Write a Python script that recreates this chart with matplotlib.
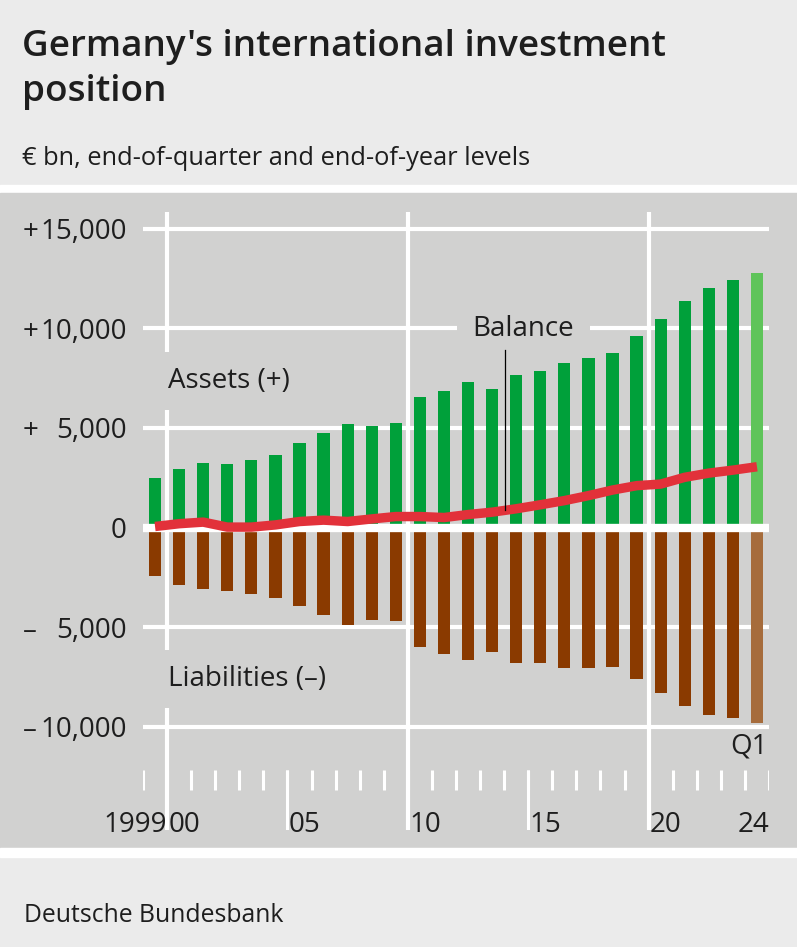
import numpy as np
import matplotlib
matplotlib.use("Agg")
from matplotlib import pyplot as plt
from matplotlib.patches import Rectangle

plt.rcParams['font.family'] = ['Open Sans', 'DejaVu Sans']

years = list(range(1999, 2025))
assets = [2500, 2920, 3240, 3190, 3370, 3640, 4240, 4740, 5210, 5110, 5250,
          6530, 6850, 7300, 6950, 7650, 7880, 8280, 8530, 8760, 9590,
          10450, 11390, 12020, 12410, 12800]
liabilities = [-2430, -2880, -3070, -3180, -3330, -3530, -3930, -4400, -4880, -4650, -4700,
               -5990, -6340, -6675, -6240, -6790, -6825, -7060, -7075, -7000, -7590,
               -8325, -8960, -9390, -9575, -9790]
balance = [50, 190, 270, 20, 20, 130, 300, 370, 300, 430, 550,
           550, 500, 650, 770, 940, 1140, 1350, 1600, 1880, 2100,
           2180, 2520, 2730, 2880, 3050]
ytick_vals = [15000, 10000, 5000, 0, -5000, -10000]
ytick_signs = ['+', '+', '+', '', '\u2013', '\u2013']
ytick_nums = ['15,000', '10,000', '5,000', '0', '5,000', '10,000']

W, H = 797, 947
fig = plt.figure(figsize=(W / 100, H / 100), dpi=100)
fig.patch.set_facecolor('#ebebeb')

panel = '#d1d1d0'
txt = '#1e1e1e'

def fy(p):
    return 1 - p / H

# white stripes and grey panel
for top, bot, c in [(185, 193, 'white'), (193, 848, panel), (848, 857, 'white')]:
    fig.add_artist(Rectangle((0, fy(bot)), 1, (bot - top) / H, transform=fig.transFigure,
                             color=c, zorder=-5))

fig.text(22 / W, fy(56), "Germany's international investment", fontsize=26.6, fontweight='semibold',
         color=txt, va='baseline')
fig.text(22 / W, fy(101), "position", fontsize=26.6, fontweight='semibold', color=txt, va='baseline')
fig.text(22 / W, fy(165), "\u20ac bn, end-of-quarter and end-of-year levels", fontsize=18.3, color=txt, va='baseline')
fig.text(24 / W, fy(922), "Deutsche Bundesbank", fontsize=17.8, color=txt, va='baseline')

# axes: x from 143 to 769 px, y from 212 to 830 px
ax = fig.add_axes([143 / W, fy(830), (769 - 143) / W, (830 - 212) / H])
ax.set_zorder(2)
ax.set_xlim(-0.5, 25.5)
zero_px, per_px = 527.5, 5000 / 99.6
ax.set_ylim((zero_px - 830) * per_px, (zero_px - 212) * per_px)
ax.axis('off')

def val(p):
    return (zero_px - p) * per_px

x = np.arange(len(years))
g_col = ['#00a03a'] * (len(years) - 1) + ['#5fc45a']
b_col = ['#8a3a00'] * (len(years) - 1) + ['#a66c3c']
ax.bar(x, assets, width=0.51, color=g_col, zorder=2)
ax.bar(x, liabilities, width=0.51, color=b_col, zorder=2)

for v in ytick_vals:
    ax.axhline(v, color='white', lw=6 if v == 0 else 3, zorder=3 if v == 0 else 1)
for xv in [0.5, 10.5, 20.5]:
    ax.axvline(xv, color='white', lw=3, zorder=1)

ax.plot(x, balance, color='#e2313a', lw=6.8, solid_capstyle='butt', zorder=4)

# year ticks
bounds = np.arange(-0.5, 25.6, 1)
ax.vlines(bounds, val(790), val(770), color='white', lw=2.2, zorder=1)
ax.vlines([5.5, 15.5], val(830), val(770), color='white', lw=2.2, zorder=1)

ylab = val(832)
fs = 20
ax.text(0.5, ylab, '1999', ha='right', va='baseline', fontsize=fs, color=txt)
for xv, s in [(0.5, '00'), (5.5, '05'), (10.5, '10'), (15.5, '15'), (20.5, '20')]:
    ax.text(xv + 0.06, ylab, s, ha='left', va='baseline', fontsize=fs, color=txt)
ax.text(25.5, ylab, '24', ha='right', va='baseline', fontsize=fs, color=txt)
ax.text(25.45, val(746), 'Q1', ha='right', va='center', fontsize=fs, color=txt)

# y tick labels
for v, s, n in zip(ytick_vals, ytick_signs, ytick_nums):
    yp = zero_px - v / per_px
    fig.text(23 / W, fy(yp), s, ha='left', va='center_baseline', fontsize=fs, color=txt)
    fig.text(127 / W, fy(yp), n, ha='right', va='center_baseline', fontsize=fs, color=txt)

box = dict(boxstyle='square,pad=0.55', fc=panel, ec='none')
ax.text(0.55, val(381), 'Assets (+)', ha='left', va='center', fontsize=fs, color=txt,
        bbox=box, zorder=5)
ax.text(0.55, val(679), 'Liabilities (\u2013)', ha='left', va='center', fontsize=fs, color=txt,
        bbox=box, zorder=5)
ax.text(15.3, val(329), 'Balance', ha='center', va='center', fontsize=fs, color=txt,
        bbox=box, zorder=5)

lx = 14.55
ax.plot([lx, lx], [val(350), np.interp(lx, x, balance)], color='black', lw=0.9, zorder=6)

fig.savefig('out.png', dpi=100, facecolor=fig.get_facecolor())
